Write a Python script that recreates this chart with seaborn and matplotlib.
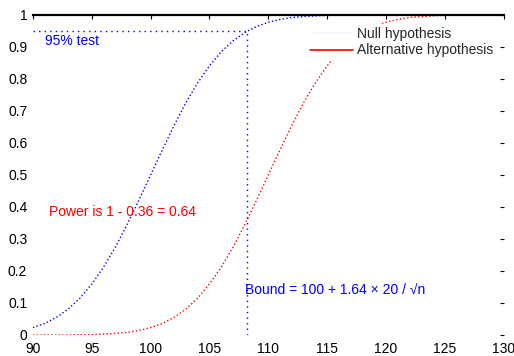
import matplotlib
matplotlib.use("Agg")
import matplotlib.pyplot as plt
from matplotlib.lines import Line2D
import seaborn as sns
import pandas as pd

# x grid and curve values
x_vals = list(range(90, 131))
null_cdf = [0.023, 0.036, 0.055, 0.081, 0.115, 0.159, 0.212, 0.274, 0.345, 0.421,
            0.500, 0.579, 0.655, 0.726, 0.788, 0.841, 0.885, 0.919, 0.945, 0.964,
            0.977, 0.986, 0.992, 0.995, 0.997, 0.999, 1.0, 1.0, 1.0, 1.0,
            1.0, 1.0, 1.0, 1.0, 1.0, 1.0, 1.0, 1.0, 1.0, 1.0, 1.0]
alt_cdf = [0.000, 0.000, 0.000, 0.000, 0.001, 0.001, 0.003, 0.005, 0.008, 0.014,
           0.023, 0.036, 0.055, 0.081, 0.115, 0.159, 0.212, 0.274, 0.345, 0.421,
           0.500, 0.579, 0.655, 0.726, 0.788, 0.841, 0.885, 0.919, 0.945, 0.964,
           0.977, 0.986, 0.992, 0.995, 0.997, 0.999, 1.0, 1.0, 1.0, 1.0, 1.0]
crit_x = 108.2
crit_level = 0.95
x_ticks = [90, 95, 100, 105, 110, 115, 120, 125, 130]
y_ticks = [0, 0.1, 0.2, 0.3, 0.4, 0.5, 0.6, 0.7, 0.8, 0.9, 1]
y_ticklabels = ["0", "0.1", "0.2", "0.3", "0.4", "0.5", "0.6", "0.7", "0.8", "0.9", "1"]

df = pd.DataFrame({"x": x_vals, "null": null_cdf, "alt": alt_cdf})

sns.set_theme(style="white")
plt.rcParams['font.family'] = ['Liberation Sans', 'DejaVu Sans']

fig = plt.figure(figsize=(5.14, 3.56), dpi=100)
ax = fig.add_axes([0.064, 0.059, 0.916, 0.899])

sns.lineplot(data=df, x="x", y="null", color="blue", lw=1.0, linestyle=":", ax=ax)
sns.lineplot(data=df, x="x", y="alt", color="red", lw=1.0, linestyle=":", ax=ax)

# critical value guide lines
ax.plot([90, crit_x], [crit_level, crit_level], color="blue", lw=1.0, linestyle=(0, (1, 3)))
ax.plot([crit_x, crit_x], [0, crit_level], color="blue", lw=1.0, linestyle=(0, (1, 3)))

ax.text(91.0, 0.92, "95% test", color="blue", fontsize=10, va="center")
ax.text(91.4, 0.385, "Power is 1 - 0.36 = 0.64", color="red", fontsize=10, va="center")
ax.text(108.0, 0.14, "Bound = 100 + 1.64 × 20 / √n", color="blue", fontsize=10, va="center")

handles = [Line2D([], [], color="blue", lw=0.3, alpha=0.15),
           Line2D([], [], color="red", lw=1.2)]
leg = ax.legend(handles, ["Null hypothesis", "Alternative hypothesis"],
                loc="upper right", bbox_to_anchor=(0.984, 0.972), fontsize=10,
                frameon=True, facecolor="white", edgecolor="white", framealpha=1,
                handlelength=3.1, handletextpad=0.3, labelspacing=0.2,
                borderpad=0.2, borderaxespad=0)

ax.set_xlim(90, 130)
ax.set_ylim(0, 1)
ax.set_xticks(x_ticks)
ax.set_yticks(y_ticks)
ax.set_yticklabels(y_ticklabels)
ax.set_xlabel("")
ax.set_ylabel("")
ax.tick_params(direction="in", length=3, width=0.8, labelsize=10, colors="black",
               top=True, right=True)
ax.tick_params(axis="x", pad=5)
ax.tick_params(axis="y", pad=4)

for side in ["left", "bottom", "right"]:
    ax.spines[side].set_visible(False)
ax.spines["top"].set_color("black")
ax.spines["top"].set_linewidth(1.6)

fig.savefig("out.png", dpi=100)
